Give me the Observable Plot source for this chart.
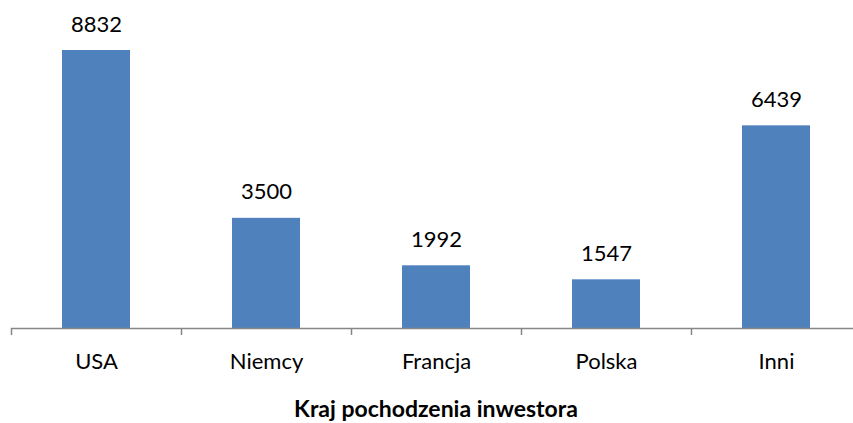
<!DOCTYPE html>
<html>
<head>
<meta charset="utf-8">
<script src="https://cdn.jsdelivr.net/npm/d3@7"></script>
<script src="https://cdn.jsdelivr.net/npm/@observablehq/plot@0.6"></script>
<style>
  html, body { margin: 0; padding: 0; background: #fff; overflow: hidden; }
  #chart svg { display: block; }
  #title { width: 853px; box-sizing: border-box; padding-left: 19px; margin-top: -4px; text-align: center;
           font-family: Lato, sans-serif; font-weight: bold; font-size: 23px; line-height: 26px; color: #000; }
</style>
</head>
<body>
<div id="chart"></div>
<div id="title">Kraj pochodzenia inwestora</div>
<script>
const categories = ["USA", "Niemcy", "Francja", "Polska", "Inni"];
const values = [8832, 3500, 1992, 1547, 6439];
const data = categories.map((c, i) => ({country: c, value: values[i]}));

const xRange = [11, 861];
const step = (xRange[1] - xRange[0]) / categories.length;
const axisColor = "#868686";

const chart = Plot.plot({
  width: 853,
  height: 399,
  marginLeft: 11,
  marginRight: 0,
  marginTop: 50,
  marginBottom: 71,
  style: {fontFamily: "Lato, sans-serif", fontSize: "22px", color: "#000", background: "#fff"},
  x: {domain: categories, range: xRange, paddingInner: 0.6, paddingOuter: 0.3, label: null},
  y: {domain: [0, d3.max(values)], axis: null},
  marks: [
    Plot.barY(data, {x: "country", y: "value", fill: "#4F81BD"}),
    Plot.ruleY([0], {stroke: axisColor, strokeWidth: 1.5}),
    Plot.ruleX(categories, {x: d => d, dx: -step / 2, y1: 0, y2: 0, insetBottom: -7, stroke: axisColor, strokeWidth: 1.5}),
    Plot.text(data, {x: "country", y: "value", text: d => String(d.value), dy: -26, lineAnchor: "middle", fill: "#000", fontSize: 22}),
    Plot.axisX({tickSize: 0, tickPadding: 25, fontSize: 22, label: null, fill: "#000"})
  ]
});
document.getElementById("chart").appendChild(chart);
</script>
</body>
</html>
